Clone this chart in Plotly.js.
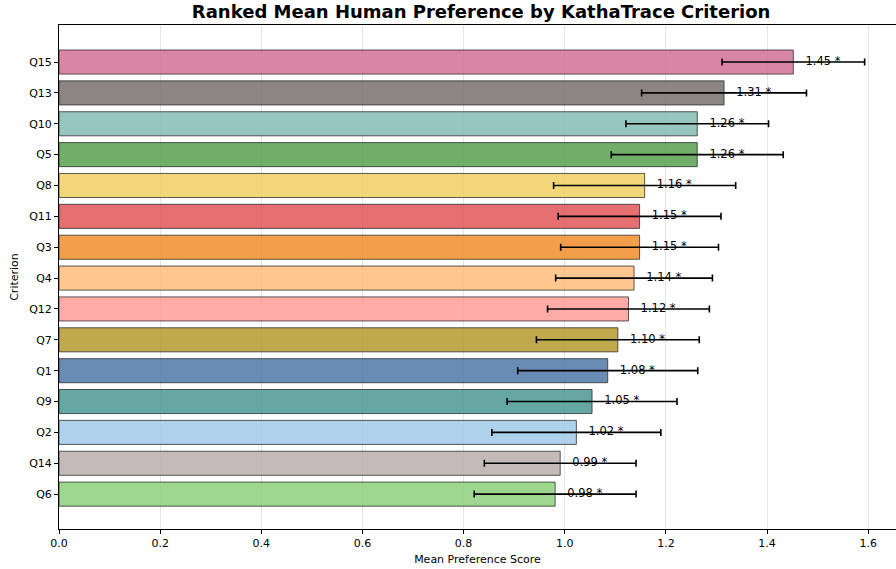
<!DOCTYPE html>
<html>
<head>
<meta charset="utf-8">
<script src="https://cdn.plot.ly/plotly-3.0.1.min.js"></script>
<style>html,body{margin:0;padding:0;background:#fff;}#chart{width:896px;height:569px;}</style>
</head>
<body>
<div id="chart"></div>
<script>
// Bottom to top order
const criteria = ["Q6","Q14","Q2","Q9","Q1","Q7","Q12","Q4","Q3","Q11","Q8","Q5","Q10","Q13","Q15"];
const meanScores = [0.981,0.991,1.023,1.054,1.085,1.105,1.126,1.137,1.148,1.148,1.158,1.262,1.262,1.315,1.452];
const errors = [0.160,0.150,0.167,0.168,0.178,0.161,0.160,0.155,0.156,0.161,0.180,0.170,0.141,0.163,0.141];
const scoreLabels = ["0.98 *","0.99 *","1.02 *","1.05 *","1.08 *","1.10 *","1.12 *","1.14 *","1.15 *","1.15 *","1.16 *","1.26 *","1.26 *","1.31 *","1.45 *"];
const barColors = ["#8cd17d","#bab0ac","#a0cbe8","#499894","#4e79a7","#b6992d","#ff9d9a","#ffbe7d","#f28e2b","#e15759","#f1ce63","#59a14f","#86bcb6","#79706e","#d37295"];
const xTicks = [0,0.2,0.4,0.6,0.8,1.0,1.2,1.4,1.6];
const xTickText = ["0.0","0.2","0.4","0.6","0.8","1.0","1.2","1.4","1.6"];

const font = "DejaVu Sans, sans-serif";

const bars = {
  type: "bar",
  orientation: "h",
  y: criteria,
  x: meanScores,
  width: 0.78,
  marker: {color: barColors, opacity: 0.85, line: {color: "rgba(0,0,0,0.75)", width: 1}},
  error_x: {type: "data", array: errors, visible: true, color: "#000", thickness: 1.6, width: 3.5},
  hoverinfo: "skip",
  showlegend: false
};

const labels = {
  type: "scatter",
  mode: "text",
  y: criteria,
  x: meanScores.map(v => v + 0.024),
  text: scoreLabels,
  textposition: "middle right",
  textfont: {family: font, size: 11.5, color: "#000"},
  hoverinfo: "skip",
  showlegend: false,
  cliponaxis: false
};

const layout = {
  width: 896, height: 569,
  margin: {l: 59, r: 0, t: 25, b: 40},
  paper_bgcolor: "#fff", plot_bgcolor: "#fff",
  font: {family: font, size: 11, color: "#000"},
  title: {text: "<b>Ranked Mean Human Preference by KathaTrace Criterion</b>", font: {family: font, size: 18, color: "#000"},
    x: 0.537, xanchor: "center", xref: "container", y: 0.979, yanchor: "middle", yref: "container"},
  xaxis: {
    range: [0, 1.655], tickvals: xTicks, ticktext: xTickText,
    showgrid: true, gridcolor: "rgba(0,0,0,0.1)", gridwidth: 1,
    showline: true, linecolor: "#000", linewidth: 1, mirror: true,
    ticks: "outside", ticklen: 4, tickcolor: "#000", zeroline: false,
    title: {text: "Mean Preference Score", font: {family: font, size: 11}, standoff: 6},
    tickfont: {family: font, size: 11}
  },
  yaxis: {
    type: "category", categoryorder: "array", categoryarray: criteria,
    range: [-1.13, 15.2],
    showgrid: false, showline: true, linecolor: "#000", linewidth: 1, mirror: false,
    ticks: "outside", ticklen: 4, tickcolor: "#000", zeroline: false,
    title: {text: "Criterion", font: {family: font, size: 11}, standoff: 8},
    tickfont: {family: font, size: 11}
  },
  bargap: 0.2
};

Plotly.newPlot("chart", [bars, labels], layout, {staticPlot: true, displayModeBar: false});
</script>
</body>
</html>
